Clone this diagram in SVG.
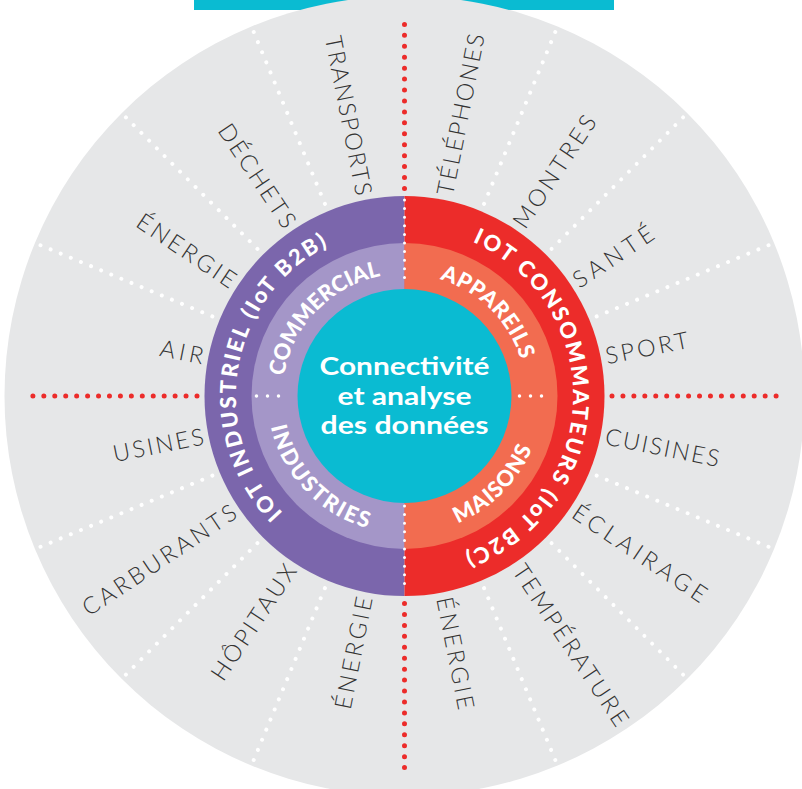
<svg xmlns="http://www.w3.org/2000/svg" width="802" height="789" viewBox="0 0 802 789">
<style>
.lbl{font-family:Lato,"Open Sans","Liberation Sans",sans-serif;font-weight:300;font-size:23.5px;fill:#333}
.lbl.r{text-anchor:start}
.lbl.l{text-anchor:end}
.ring{font-family:Lato,"Open Sans","Liberation Sans",sans-serif;font-weight:900;font-size:22px;fill:#fff}
.ctr{font-family:Lato,"Open Sans","Liberation Sans",sans-serif;font-weight:700;font-size:25px;fill:#fff;text-anchor:middle}
.rd{stroke:#ec2c2a;stroke-width:5;stroke-linecap:round;stroke-dasharray:0 10.94;fill:none}
.wd{stroke:#fff;stroke-width:4;stroke-linecap:round;stroke-dasharray:0 10.94;fill:none}
.ws{stroke:#fff;stroke-width:3;stroke-linecap:round;stroke-dasharray:0 8.6;fill:none}
.wh{stroke:#fff;stroke-width:3.5;stroke-linecap:round;stroke-dasharray:0 11;fill:none}
</style>
<defs>
<path id="pInd" d="M405.97,564.6 A168.6,168.6 0 1 1 460.78,237.06"/>
<path id="pCom" d="M312.35,476.11 A122.1,122.1 0 0 1 481.34,301.11"/>
<path id="pIndus" d="M301.07,304.97 A137.9,137.9 0 0 0 490.54,503.77"/>
<path id="pApp" d="M325.53,302.87 A122.1,122.1 0 0 1 498.44,473.95"/>
<path id="pMai" d="M316.05,501.80 A137.9,137.9 0 0 0 509.98,307.18"/>
<path id="pCons" d="M379.58,229.25 A168.6,168.6 0 1 1 370.88,561.21"/>
</defs>
<rect x="194" y="0" width="420" height="10" fill="#0abbd2"/>
<g id="outer-disc"><circle cx="404.5" cy="396" r="400" fill="#e6e7e8"/></g>
<g id="connectors">
<line class="rd" x1="612" y1="396" x2="787" y2="396"/>
<line class="rd" x1="612" y1="396" x2="787" y2="396" transform="rotate(90 404.5 396)"/>
<line class="rd" x1="612" y1="396" x2="787" y2="396" transform="rotate(180 404.5 396)"/>
<line class="rd" x1="612" y1="396" x2="787" y2="396" transform="rotate(270 404.5 396)"/>
<line class="wd" x1="612.5" y1="396" x2="798.5" y2="396" transform="rotate(22.5 404.5 396)"/>
<line class="wd" x1="612.5" y1="396" x2="798.5" y2="396" transform="rotate(45 404.5 396)"/>
<line class="wd" x1="612.5" y1="396" x2="798.5" y2="396" transform="rotate(67.5 404.5 396)"/>
<line class="wd" x1="612.5" y1="396" x2="798.5" y2="396" transform="rotate(112.5 404.5 396)"/>
<line class="wd" x1="612.5" y1="396" x2="798.5" y2="396" transform="rotate(135 404.5 396)"/>
<line class="wd" x1="612.5" y1="396" x2="798.5" y2="396" transform="rotate(157.5 404.5 396)"/>
<line class="wd" x1="612.5" y1="396" x2="798.5" y2="396" transform="rotate(202.5 404.5 396)"/>
<line class="wd" x1="612.5" y1="396" x2="798.5" y2="396" transform="rotate(225 404.5 396)"/>
<line class="wd" x1="612.5" y1="396" x2="798.5" y2="396" transform="rotate(247.5 404.5 396)"/>
<line class="wd" x1="612.5" y1="396" x2="798.5" y2="396" transform="rotate(292.5 404.5 396)"/>
<line class="wd" x1="612.5" y1="396" x2="798.5" y2="396" transform="rotate(315 404.5 396)"/>
<line class="wd" x1="612.5" y1="396" x2="798.5" y2="396" transform="rotate(337.5 404.5 396)"/>
</g>
<g id="iot-industriel">
<path d="M404.5,196 A200,200 0 0 0 404.5,596 Z" fill="#7b66ac"/>
<text class="ring"><textPath href="#pInd" startOffset="50%" text-anchor="middle" textLength="314" lengthAdjust="spacing">IOT INDUSTRIEL (IoT B2B)</textPath></text>
</g>
<g id="iot-consommateurs">
<path d="M404.5,196 A200,200 0 0 1 404.5,596 Z" fill="#ec2c2a"/>
<text class="ring"><textPath href="#pCons" startOffset="50%" text-anchor="middle" textLength="398" lengthAdjust="spacing">IOT CONSOMMATEURS (IoT B2C)</textPath></text>
</g>
<g id="commercial">
<path d="M404.5,243 A153,153 0 0 0 251.5,396 L404.5,396 Z" fill="#a496c8"/>
<text class="ring"><textPath href="#pCom" startOffset="50%" text-anchor="middle" textLength="148" lengthAdjust="spacing">COMMERCIAL</textPath></text>
</g>
<g id="industries">
<path d="M251.5,396 A153,153 0 0 0 404.5,549 L404.5,396 Z" fill="#a496c8"/>
<text class="ring"><textPath href="#pIndus" startOffset="50%" text-anchor="middle" textLength="147" lengthAdjust="spacing">INDUSTRIES</textPath></text>
</g>
<g id="appareils">
<path d="M404.5,243 A153,153 0 0 1 557.5,396 L404.5,396 Z" fill="#f26c50"/>
<text class="ring"><textPath href="#pApp" startOffset="50%" text-anchor="middle" textLength="119" lengthAdjust="spacing">APPAREILS</textPath></text>
</g>
<g id="maisons">
<path d="M557.5,396 A153,153 0 0 1 404.5,549 L404.5,396 Z" fill="#f26c50"/>
<text class="ring"><textPath href="#pMai" startOffset="50%" text-anchor="middle" textLength="108" lengthAdjust="spacing">MAISONS</textPath></text>
</g>
<g id="ring-dividers">
<line class="ws" x1="404.5" y1="200" x2="404.5" y2="286"/>
<line class="ws" x1="404.5" y1="506" x2="404.5" y2="592"/>
<line class="wh" x1="256.5" y1="396" x2="289.5" y2="396"/>
<line class="wh" x1="519.5" y1="396" x2="552.5" y2="396"/>
</g>
<g id="center">
<circle cx="404.5" cy="396" r="107" fill="#0abbd2"/>
<text class="ctr" x="404.5" y="375" textLength="170" lengthAdjust="spacingAndGlyphs">Connectivité</text>
<text class="ctr" x="404.5" y="404.5" textLength="134" lengthAdjust="spacingAndGlyphs">et analyse</text>
<text class="ctr" x="404.5" y="434" textLength="168" lengthAdjust="spacingAndGlyphs">des données</text>
</g>
<g id="labels-industriel">
<g id="lbl-transports"><text class="lbl l" x="199.5" y="404.4" textLength="162" lengthAdjust="spacing" transform="rotate(78.75 404.5 396)">TRANSPORTS</text></g>
<g id="lbl-dechets"><text class="lbl l" x="199.5" y="404.4" textLength="120" lengthAdjust="spacing" transform="rotate(56.25 404.5 396)">DÉCHETS</text></g>
<g id="lbl-energie-1"><text class="lbl l" x="199.5" y="404.4" textLength="114" lengthAdjust="spacing" transform="rotate(33.75 404.5 396)">ÉNERGIE</text></g>
<g id="lbl-air"><text class="lbl l" x="199.5" y="404.4" textLength="44" lengthAdjust="spacing" transform="rotate(11.25 404.5 396)">AIR</text></g>
<g id="lbl-usines"><text class="lbl l" x="199.5" y="404.4" textLength="92" lengthAdjust="spacing" transform="rotate(-11.25 404.5 396)">USINES</text></g>
<g id="lbl-carburants"><text class="lbl l" x="199.5" y="404.4" textLength="180" lengthAdjust="spacing" transform="rotate(-33.75 404.5 396)">CARBURANTS</text></g>
<g id="lbl-hopitaux"><text class="lbl l" x="199.5" y="404.4" textLength="134" lengthAdjust="spacing" transform="rotate(-56.25 404.5 396)">HÔPITAUX</text></g>
<g id="lbl-energie-2"><text class="lbl l" x="199.5" y="404.4" textLength="114" lengthAdjust="spacing" transform="rotate(-78.75 404.5 396)">ÉNERGIE</text></g>
</g>
<g id="labels-consommateurs">
<g id="lbl-telephones"><text class="lbl r" x="609.5" y="404.4" textLength="164" lengthAdjust="spacing" transform="rotate(-78.75 404.5 396)">TÉLÉPHONES</text></g>
<g id="lbl-montres"><text class="lbl r" x="609.5" y="404.4" textLength="130" lengthAdjust="spacing" transform="rotate(-56.25 404.5 396)">MONTRES</text></g>
<g id="lbl-sante"><text class="lbl r" x="609.5" y="404.4" textLength="92" lengthAdjust="spacing" transform="rotate(-33.75 404.5 396)">SANTÉ</text></g>
<g id="lbl-sport"><text class="lbl r" x="609.5" y="404.4" textLength="84" lengthAdjust="spacing" transform="rotate(-11.25 404.5 396)">SPORT</text></g>
<g id="lbl-cuisines"><text class="lbl r" x="609.5" y="404.4" textLength="116" lengthAdjust="spacing" transform="rotate(11.25 404.5 396)">CUISINES</text></g>
<g id="lbl-eclairage"><text class="lbl r" x="609.5" y="404.4" textLength="156" lengthAdjust="spacing" transform="rotate(33.75 404.5 396)">ÉCLAIRAGE</text></g>
<g id="lbl-temperature"><text class="lbl r" x="609.5" y="404.4" textLength="189" lengthAdjust="spacing" transform="rotate(56.25 404.5 396)">TEMPÉRATURE</text></g>
<g id="lbl-energie-3"><text class="lbl r" x="609.5" y="404.4" textLength="114" lengthAdjust="spacing" transform="rotate(78.75 404.5 396)">ÉNERGIE</text></g>
</g>
</svg>
